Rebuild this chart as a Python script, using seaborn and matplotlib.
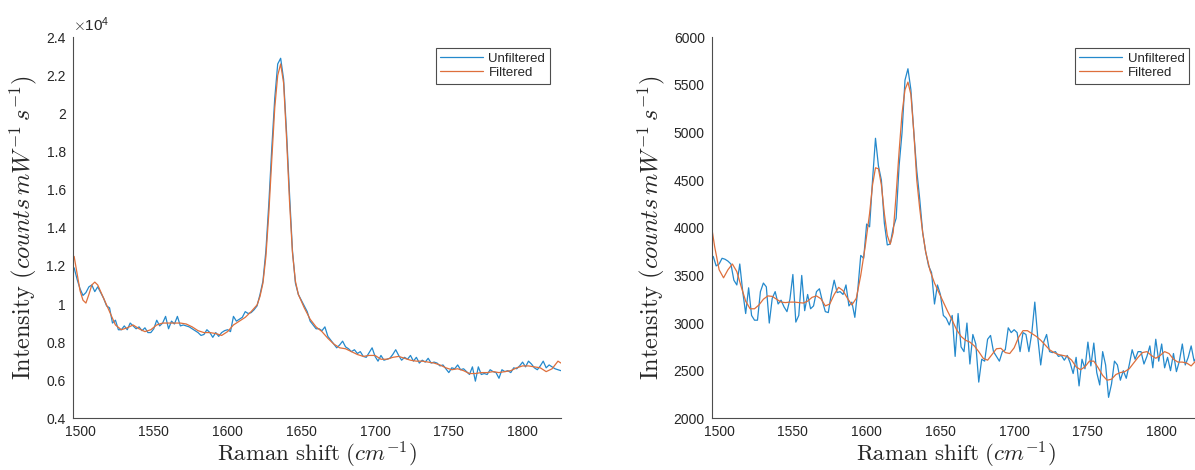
import numpy as np
import pandas as pd
import seaborn as sns
import matplotlib.pyplot as plt
from matplotlib.ticker import FuncFormatter, MultipleLocator

sns.set_style('white')
plt.rcParams['font.family'] = ['Liberation Sans', 'DejaVu Sans']
plt.rcParams['mathtext.fontset'] = 'cm'

# left spectrum (counts)
left_raw_x = np.arange(1496, 1827, 2)
left_raw = [
    11900, 11300, 10800, 10450, 10600, 10900, 11000, 10650, 10900, 10600,
    10300, 9900, 9800, 9000, 9150, 8650, 8650, 8850, 8650, 9000,
    8850, 8700, 8800, 8600, 8750, 8500, 8500, 8700, 9150, 8850,
    9000, 9350, 8700, 9100, 8950, 9350, 8850, 8900, 8850, 8800,
    8700, 8600, 8500, 8350, 8400, 8650, 8500, 8250, 8500, 8300,
    8500, 8600, 8650, 8550, 9350, 9100, 9200, 9300, 9600, 9500,
    9550, 9700, 9900, 10500, 11200, 12800, 15300, 18200, 20800, 22600,
    22900, 21800, 19000, 15800, 12800, 11100, 10500, 10200, 9900, 9600,
    9100, 8900, 8700, 8700, 8600, 8800, 8300, 8100, 7900, 7700,
    7850, 8050, 7750, 7650, 7500, 7600, 7400, 7500, 7250, 7200,
    7450, 7700, 7250, 7000, 7300, 7050, 7100, 7150, 7350, 7600,
    7300, 7050, 7200, 7100, 7300, 7000, 7200, 6900, 7050, 6950,
    7150, 6900, 6950, 6900, 6750, 6800, 6600, 6400, 6650, 6600,
    6800, 6550, 6600, 6450, 6300, 6700, 5950, 6700, 6300, 6350,
    6300, 6550, 6450, 6400, 6100, 6550, 6450, 6500, 6400, 6650,
    6600, 6750, 6950, 6700, 7000, 6850, 6650, 6550, 6750, 7000,
    6650, 6800, 6700, 6600, 6550, 6500,
]
left_filt_x = [
    1496, 1498, 1500, 1502, 1504, 1506, 1508, 1510, 1512, 1516,
    1520, 1524, 1528, 1532, 1536, 1540, 1544, 1548, 1552, 1556,
    1560, 1564, 1568, 1572, 1576, 1580, 1584, 1588, 1592, 1596,
    1600, 1604, 1608, 1612, 1616, 1620, 1622, 1624, 1626, 1628,
    1630, 1632, 1634, 1636, 1638, 1640, 1642, 1644, 1646, 1648,
    1652, 1656, 1660, 1664, 1668, 1672, 1676, 1680, 1684, 1688,
    1692, 1696, 1700, 1704, 1708, 1712, 1716, 1720, 1724, 1728,
    1732, 1736, 1740, 1744, 1748, 1752, 1756, 1760, 1764, 1768,
    1772, 1776, 1780, 1784, 1788, 1792, 1796, 1800, 1804, 1808,
    1812, 1816, 1820, 1824, 1826,
]
left_filt = [
    12500, 11600, 10700, 10200, 10050, 10500, 11000, 11150, 11000, 10300,
    9600, 8900, 8650, 8750, 8900, 8700, 8550, 8650, 8900, 9000,
    9000, 9000, 9000, 8950, 8800, 8600, 8500, 8500, 8450, 8350,
    8550, 8900, 9100, 9300, 9600, 9950, 10400, 11100, 12500, 14800,
    17600, 20300, 22000, 22600, 21600, 18700, 15400, 12700, 11200, 10500,
    9800, 9200, 8800, 8550, 8200, 7900, 7700, 7650, 7500, 7350,
    7250, 7300, 7300, 7100, 7100, 7200, 7250, 7150, 7050, 7000,
    7000, 6950, 6900, 6800, 6650, 6550, 6600, 6500, 6350, 6350,
    6400, 6400, 6450, 6400, 6450, 6500, 6650, 6750, 6750, 6700,
    6650, 6450, 6600, 7000, 6900,
]

# right spectrum (counts)
right_raw_x = np.arange(1496, 1827, 2)
right_raw = [
    3700, 3600, 3620, 3680, 3670, 3650, 3620, 3450, 3400, 3620,
    3330, 3100, 3370, 3080, 3030, 3030, 3330, 3420, 3380, 3000,
    3260, 3330, 3200, 3240, 3170, 3120, 3250, 3510, 3010, 3080,
    3500, 3130, 3300, 3150, 3180, 3330, 3360, 3230, 3120, 3110,
    3300, 3450, 3320, 3330, 3300, 3400, 3180, 3220, 3060, 3350,
    3710, 3680, 4040, 4010, 4500, 4940, 4650, 4500, 4050, 3820,
    3830, 4000, 4100, 4650, 5000, 5550, 5670, 5450, 5000, 4600,
    4300, 3950, 3750, 3600, 3530, 3200, 3400, 3300, 3080, 3050,
    2980, 3080, 2650, 3100, 2750, 2700, 3000, 2570, 2880, 2780,
    2380, 2620, 2600, 2830, 2870, 2700, 2650, 2600, 2700, 2720,
    2950, 2900, 2930, 2900, 2700, 2900, 2880, 2700, 2900, 3220,
    2850, 2560, 2800, 2880, 2700, 2690, 2700, 2650, 2660, 2610,
    2660, 2580, 2470, 2640, 2340, 2620, 2520, 2800, 2550, 2790,
    2480, 2350, 2700, 2560, 2220, 2360, 2600, 2560, 2400, 2500,
    2420, 2560, 2720, 2620, 2700, 2700, 2570, 2650, 2760, 2530,
    2830, 2600, 2780, 2530, 2640, 2500, 2680, 2490, 2600, 2780,
    2560, 2640, 2760, 2600, 2650, 2600,
]
right_filt_x = [
    1495, 1497, 1500, 1503, 1506, 1509, 1512, 1515, 1518, 1521,
    1524, 1527, 1530, 1533, 1536, 1539, 1542, 1545, 1548, 1551,
    1554, 1557, 1560, 1563, 1566, 1569, 1572, 1575, 1578, 1581,
    1584, 1587, 1590, 1593, 1596, 1599, 1602, 1604, 1606, 1608,
    1610, 1612, 1614, 1616, 1618, 1620, 1622, 1624, 1626, 1628,
    1630, 1632, 1634, 1636, 1638, 1640, 1643, 1646, 1649, 1652,
    1655, 1658, 1661, 1664, 1667, 1670, 1673, 1676, 1679, 1682,
    1685, 1688, 1691, 1694, 1697, 1700, 1703, 1706, 1709, 1712,
    1715, 1718, 1721, 1724, 1727, 1730, 1733, 1736, 1739, 1742,
    1745, 1748, 1751, 1754, 1757, 1760, 1763, 1766, 1769, 1772,
    1775, 1778, 1781, 1784, 1787, 1790, 1793, 1796, 1799, 1802,
    1805, 1808, 1811, 1814, 1817, 1820, 1823, 1826,
]
right_filt = [
    4000, 3800, 3560, 3475, 3560, 3620, 3540, 3380, 3230, 3150,
    3150, 3190, 3250, 3285, 3280, 3250, 3220, 3215, 3220, 3220,
    3215, 3210, 3230, 3270, 3285, 3255, 3180, 3200, 3300, 3375,
    3340, 3260, 3190, 3260, 3500, 3800, 4150, 4450, 4630, 4620,
    4450, 4150, 3920, 3830, 3950, 4350, 4800, 5200, 5450, 5530,
    5400, 5000, 4500, 4200, 3950, 3750, 3550, 3420, 3320, 3220,
    3120, 3030, 2930, 2860, 2820, 2800, 2760, 2700, 2630, 2610,
    2670, 2730, 2735, 2690, 2680, 2740, 2850, 2920, 2920, 2890,
    2860, 2820, 2770, 2720, 2690, 2670, 2660, 2650, 2610, 2540,
    2510, 2540, 2600, 2600, 2530, 2450, 2400, 2410, 2460, 2480,
    2490, 2520, 2580, 2640, 2690, 2700, 2660, 2630, 2660, 2700,
    2680, 2620, 2590, 2590, 2580, 2550, 2600, 2620,
]

series_names = ['Unfiltered', 'Filtered']
colors = {'Unfiltered': '#2489cc', 'Filtered': '#de6f3c'}
ink = '#262626'


def make_df(raw_x, raw, filt_x, filt):
    a = pd.DataFrame({'shift': raw_x, 'intensity': raw, 'series': 'Unfiltered'})
    b = pd.DataFrame({'shift': filt_x, 'intensity': filt, 'series': 'Filtered'})
    return pd.concat([a, b], ignore_index=True)


df_left = make_df(left_raw_x, left_raw, left_filt_x, left_filt)
df_right = make_df(right_raw_x, right_raw, right_filt_x, right_filt)

fig = plt.figure(figsize=(11.95, 4.70), dpi=100)
ax1 = fig.add_axes([0.0608, 0.110, 0.4086, 0.8106])
ax2 = fig.add_axes([0.5956, 0.110, 0.4086, 0.8106])

for ax, df in [(ax1, df_left), (ax2, df_right)]:
    sns.lineplot(data=df, x='shift', y='intensity', hue='series',
                 hue_order=series_names, palette=colors, estimator=None,
                 sort=False, linewidth=0.9, ax=ax)
    ax.set_xlim(1495, 1826)
    ax.xaxis.set_major_locator(MultipleLocator(50))
    for s in ['top', 'right']:
        ax.spines[s].set_visible(False)
    for s in ['left', 'bottom']:
        ax.spines[s].set_color('#4d4d4d')
        ax.spines[s].set_linewidth(0.8)
    ax.tick_params(direction='in', length=3, width=0.7, color='#4d4d4d',
                   labelcolor=ink, labelsize=10)
    ax.tick_params(axis='x', pad=5)
    ax.tick_params(axis='y', pad=5)
    ax.set_xlabel(r'$\mathrm{Raman\ shift}\ (cm^{-1})$', fontsize=16.5, color=ink, labelpad=0)
    ax.set_ylabel(r'$\mathrm{Intensity}\ (counts\,mW^{-1}\,s^{-1})$', fontsize=17.5, color=ink, labelpad=5)
    handles, labels = ax.get_legend_handles_labels()
    leg = ax.legend(handles, labels, loc='upper right', bbox_to_anchor=(0.9775, 0.972),
                    borderaxespad=0, fontsize=9.5, handlelength=3.2, handletextpad=0.45,
                    labelspacing=0.15, borderpad=0.35, fancybox=False, framealpha=1,
                    edgecolor='#4d4d4d')
    leg.get_frame().set_linewidth(0.8)

ax1.set_ylim(4000, 24000)
ax1.yaxis.set_major_locator(MultipleLocator(2000))
ax1.yaxis.set_major_formatter(FuncFormatter(lambda v, p: f'{v / 1e4:g}'))
ax1.text(0.0, 1.008, r'$\times\mathregular{10^{4}}$', transform=ax1.transAxes,
         ha='left', va='bottom', fontsize=11, color=ink)

ax2.set_ylim(2000, 6000)
ax2.yaxis.set_major_locator(MultipleLocator(500))

fig.savefig('out.png', dpi=100, facecolor='white')
